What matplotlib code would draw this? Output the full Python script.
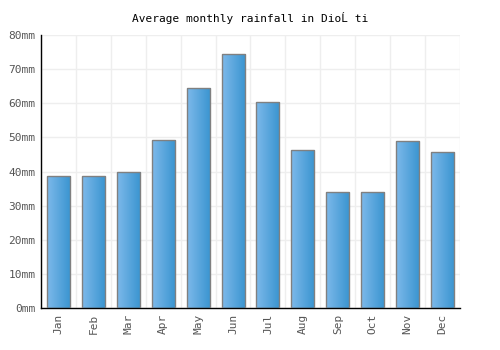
import numpy as np
import matplotlib
matplotlib.use('Agg')
import matplotlib.pyplot as plt
from matplotlib.colors import LinearSegmentedColormap

# Data
months = ['Jan', 'Feb', 'Mar', 'Apr', 'May', 'Jun', 'Jul', 'Aug', 'Sep', 'Oct', 'Nov', 'Dec']
rainfall = [38.8, 38.8, 39.9, 49.1, 64.4, 74.3, 60.3, 46.2, 34.0, 34.0, 48.8, 45.6]
y_ticks = [0, 10, 20, 30, 40, 50, 60, 70, 80]

plt.rcParams['font.family'] = ['DejaVu Sans Mono']

fig = plt.figure(figsize=(5, 3.5), dpi=100)
ax = fig.add_axes([0.082, 0.12, 0.838, 0.78])

x = np.arange(len(months))
bars = ax.bar(x, rainfall, width=0.66, color='none', edgecolor='#808080', linewidth=1, zorder=3)

# horizontal gradient fill inside each bar
cmap = LinearSegmentedColormap.from_list('blu', ['#7db9ea', '#3994d0'])
grad = np.linspace(0, 1, 64).reshape(1, -1)
for b in bars:
    x0, w, h = b.get_x(), b.get_width(), b.get_height()
    im = ax.imshow(grad, cmap=cmap, aspect='auto', extent=[x0, x0 + w, 0, h], zorder=2)
    im.set_clip_path(b)

ax.set_xlim(-0.5, len(months) - 0.5)
ax.set_ylim(0, 80)
ax.set_xticks(x)
ax.set_xticklabels(months, rotation=90, fontsize=8, color='#555555')
ax.set_yticks(y_ticks)
ax.set_yticklabels([f'{v}mm' for v in y_ticks], fontsize=8, color='#555555')
ax.tick_params(length=0, pad=4)

# grid lines at category boundaries and y ticks
ax.set_xticks(np.arange(-0.5, len(months)), minor=True)
ax.tick_params(which='minor', length=0)
ax.grid(True, which='minor', axis='x', color='#eeeeee', linewidth=1, zorder=0)
ax.grid(True, which='major', axis='y', color='#eeeeee', linewidth=1, zorder=0)

for s in ['top', 'right']:
    ax.spines[s].set_visible(False)
for s in ['left', 'bottom']:
    ax.spines[s].set_color('black')
    ax.spines[s].set_linewidth(1)

fig.text(0.5, 0.95, 'Average monthly rainfall in DioĹ ti', ha='center', va='center', fontsize=8)

fig.savefig('out.png', dpi=100)
